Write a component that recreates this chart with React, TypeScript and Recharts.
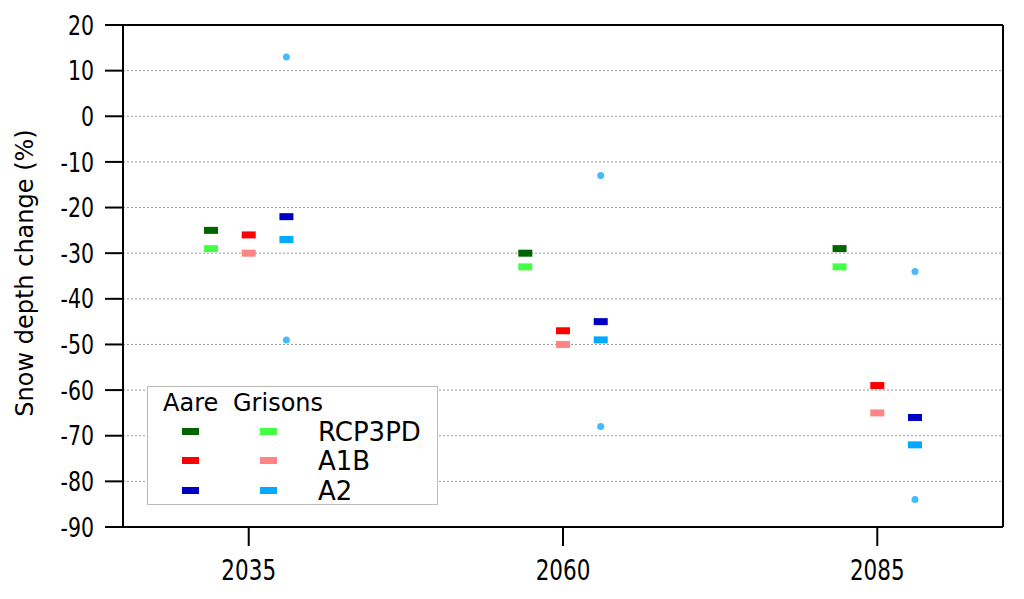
import React from "react";
import {
  ScatterChart,
  Scatter,
  XAxis,
  YAxis,
  CartesianGrid,
  ReferenceLine,
} from "recharts";

// periods (years) on the x axis
const years = [2035, 2060, 2085];
const yTicks = [-90, -80, -70, -60, -50, -40, -30, -20, -10, 0, 10, 20];

// snow depth change (%) per period
const aareRCP3PD = [-25, -30, -29];
const grisonsRCP3PD = [-29, -33, -33];
const aareA1B = [-26, -47, -59];
const grisonsA1B = [-30, -50, -65];
const aareA2 = [-22, -45, -66];
const grisonsA2 = [-27, -49, -72];
// A2 range (upper / lower) drawn as dots
const a2High = [13, -13, -34];
const a2Low = [-49, -68, -84];

// scenario shift around each period, in years
const scenarioShift: Record<string, number> = { RCP3PD: -3, A1B: 0, A2: 3 };

const colors = {
  aareRCP3PD: "#006400",
  grisonsRCP3PD: "#44ff44",
  aareA1B: "#ff0000",
  grisonsA1B: "#ff8585",
  aareA2: "#0000c4",
  grisonsA2: "#00aaff",
  range: "#44bbff",
};

const toPoints = (values: number[], scenario: string) =>
  years.map((yr, i) => ({ x: yr + scenarioShift[scenario], y: values[i] }));

const Dash = (fill: string) => (props: any) => (
  <rect x={props.cx - 7} y={props.cy - 3.5} width={14} height={7} fill={fill} />
);

const Dot = (fill: string) => (props: any) => (
  <circle cx={props.cx} cy={props.cy} r={3.5} fill={fill} />
);

const XTick = ({ x, y, payload }: any) => (
  <g transform={`translate(${x},${y + 24})`}>
    <text
      transform="scale(1,1.3)"
      textAnchor="middle"
      dy="0.36em"
      fontSize={21.5}
      fontFamily="DejaVu Sans"
      fill="#000"
    >
      {payload.value}
    </text>
  </g>
);

const YTick = ({ x, y, payload }: any) => (
  <g transform={`translate(${x - 11},${y})`}>
    <text
      transform="scale(1,1.3)"
      textAnchor="end"
      dy="0.36em"
      fontSize={20.5}
      fontFamily="DejaVu Sans"
      fill="#000"
    >
      {payload.value}
    </text>
  </g>
);

const legendRows = [
  { name: "RCP3PD", aare: colors.aareRCP3PD, grisons: colors.grisonsRCP3PD },
  { name: "A1B", aare: colors.aareA1B, grisons: colors.grisonsA1B },
  { name: "A2", aare: colors.aareA2, grisons: colors.grisonsA2 },
];

function ScenarioLegend() {
  const font = { fontFamily: "DejaVu Sans", color: "#000", lineHeight: 1 };
  return (
    <div
      style={{
        position: "absolute",
        left: 139,
        top: 378,
        width: 289,
        height: 117,
        border: "1px solid #bbb",
        background: "#fff",
      }}
    >
      <span style={{ ...font, position: "absolute", left: 15, top: 4, fontSize: 24 }}>
        Aare
      </span>
      <span style={{ ...font, position: "absolute", left: 85, top: 4, fontSize: 24 }}>
        Grisons
      </span>
      {legendRows.map((row, i) => {
        const cy = 44 + i * 29.5;
        return (
          <React.Fragment key={row.name}>
            <div
              style={{
                position: "absolute",
                left: 34,
                top: cy - 3.5,
                width: 17,
                height: 7,
                background: row.aare,
              }}
            />
            <div
              style={{
                position: "absolute",
                left: 112,
                top: cy - 3.5,
                width: 17,
                height: 7,
                background: row.grisons,
              }}
            />
            <span
              style={{ ...font, position: "absolute", left: 170, top: cy - 12.5, fontSize: 26 }}
            >
              {row.name}
            </span>
          </React.Fragment>
        );
      })}
    </div>
  );
}

export default function App() {
  return (
    <div style={{ position: "relative", width: 1010, height: 591 }}>
      <ScatterChart
        width={1010}
        height={591}
        margin={{ top: 17, right: 15, bottom: 12, left: 35 }}
      >
        <CartesianGrid
          horizontal
          vertical={false}
          stroke="#999"
          strokeDasharray="2 2"
        />
        <XAxis
          type="number"
          dataKey="x"
          domain={[2025, 2095]}
          ticks={years}
          height={60}
          tickSize={19}
          tickMargin={0}
          tick={<XTick />}
          axisLine={{ stroke: "#000", strokeWidth: 2 }}
          tickLine={{ stroke: "#000", strokeWidth: 2 }}
          allowDataOverflow
        />
        <YAxis
          type="number"
          dataKey="y"
          domain={[-90, 20]}
          ticks={yTicks}
          width={80}
          tickSize={18}
          tickMargin={0}
          tick={<YTick />}
          axisLine={{ stroke: "#000", strokeWidth: 2 }}
          tickLine={{ stroke: "#000", strokeWidth: 2 }}
          interval={0}
          allowDataOverflow
          label={{
            content: () => (
              <text
                x={25}
                y={265}
                transform="rotate(-90, 25, 265)"
                textAnchor="middle"
                fontSize={24}
                fontFamily="DejaVu Sans"
                fill="#000"
              >
                Snow depth change (%)
              </text>
            ),
          }}
        />
        <ReferenceLine y={20} stroke="#000" strokeWidth={2} />
        <ReferenceLine x={2095} stroke="#000" strokeWidth={2} />
        <Scatter data={toPoints(aareRCP3PD, "RCP3PD")} shape={Dash(colors.aareRCP3PD)} isAnimationActive={false} />
        <Scatter data={toPoints(grisonsRCP3PD, "RCP3PD")} shape={Dash(colors.grisonsRCP3PD)} isAnimationActive={false} />
        <Scatter data={toPoints(aareA1B, "A1B")} shape={Dash(colors.aareA1B)} isAnimationActive={false} />
        <Scatter data={toPoints(grisonsA1B, "A1B")} shape={Dash(colors.grisonsA1B)} isAnimationActive={false} />
        <Scatter data={toPoints(aareA2, "A2")} shape={Dash(colors.aareA2)} isAnimationActive={false} />
        <Scatter data={toPoints(grisonsA2, "A2")} shape={Dash(colors.grisonsA2)} isAnimationActive={false} />
        <Scatter data={toPoints(a2High, "A2")} shape={Dot(colors.range)} isAnimationActive={false} />
        <Scatter data={toPoints(a2Low, "A2")} shape={Dot(colors.range)} isAnimationActive={false} />
      </ScatterChart>
      <ScenarioLegend />
    </div>
  );
}
